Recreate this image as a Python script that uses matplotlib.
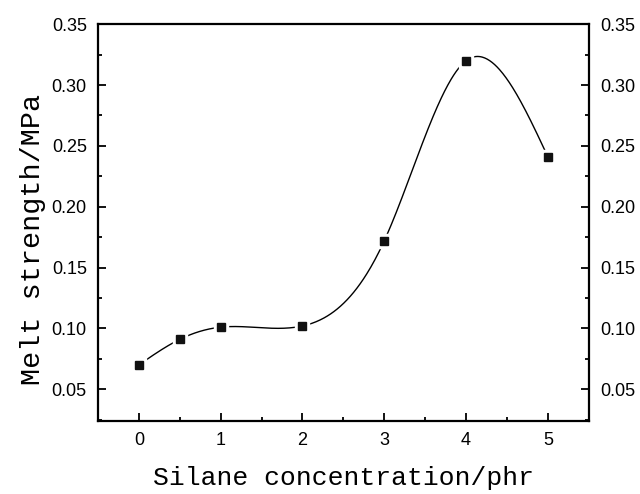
import numpy as np
import matplotlib
matplotlib.use('Agg')
import matplotlib.pyplot as plt
from matplotlib.ticker import MultipleLocator

# silane concentration (phr) and melt strength (MPa)
silane = [0, 0.5, 1, 2, 3, 4, 5]
strength = [0.070, 0.091, 0.101, 0.102, 0.172, 0.320, 0.241]


def natural_spline(x, y, xs):
    # plain natural cubic spline, like Origin's "spline" connect
    x = np.asarray(x, float)
    y = np.asarray(y, float)
    n = len(x)
    h = np.diff(x)
    A = np.zeros((n, n))
    b = np.zeros(n)
    A[0, 0] = 1.0
    A[-1, -1] = 1.0
    for i in range(1, n - 1):
        A[i, i - 1] = h[i - 1]
        A[i, i] = 2 * (h[i - 1] + h[i])
        A[i, i + 1] = h[i]
        b[i] = 6 * ((y[i + 1] - y[i]) / h[i] - (y[i] - y[i - 1]) / h[i - 1])
    M = np.linalg.solve(A, b)
    out = np.empty_like(xs)
    for k, xv in enumerate(xs):
        i = min(max(np.searchsorted(x, xv) - 1, 0), n - 2)
        t0 = x[i + 1] - xv
        t1 = xv - x[i]
        out[k] = (M[i] * t0**3 + M[i + 1] * t1**3) / (6 * h[i]) \
            + (y[i] / h[i] - M[i] * h[i] / 6) * t0 \
            + (y[i + 1] / h[i] - M[i + 1] * h[i] / 6) * t1
    return out


xs = np.linspace(silane[0], silane[-1], 500)
ys = natural_spline(silane, strength, xs)

fig = plt.figure(figsize=(6.4, 4.94), dpi=100)
ax = fig.add_axes([0.153, 0.148, 0.767, 0.803])

ax.plot(xs, ys, color='black', lw=1.0, zorder=2)
# white squares first so the curve stops short of each point
ax.plot(silane, strength, ls='none', marker='s', ms=10, color='white', zorder=3)
ax.plot(silane, strength, ls='none', marker='s', ms=5.5, color='#111111', zorder=4)

ax.set_xlim(-0.5, 5.5)
ax.set_ylim(0.024, 0.35)
ax.set_xticks([0, 1, 2, 3, 4, 5])
ax.xaxis.set_minor_locator(MultipleLocator(0.5))
ax.yaxis.set_minor_locator(MultipleLocator(0.025))
ax.set_yticks([0.05, 0.10, 0.15, 0.20, 0.25, 0.30, 0.35])
ax.set_yticklabels(['0.05', '0.10', '0.15', '0.20', '0.25', '0.30', '0.35'])

ax.tick_params(which='both', direction='in', left=True, right=True,
               top=False, bottom=True, labelright=True, width=1.3)
ax.tick_params(which='major', length=6, pad=8, labelsize=13)
ax.tick_params(which='minor', length=3)
for lab in ax.get_xticklabels() + ax.get_yticklabels():
    lab.set_family('Liberation Sans')
for lab in ax.yaxis.get_ticklabels():
    lab.set_family('Liberation Sans')
for sp in ax.spines.values():
    sp.set_linewidth(1.6)

ax.set_xlabel('Silane concentration/phr', family='Liberation Mono',
              fontsize=19, labelpad=12)
ax.set_ylabel('Melt strength/MPa', family='Liberation Mono', fontsize=20.5)
ax.yaxis.set_label_coords(-0.105, 0.458)

fig.savefig('out.png', dpi=100)
